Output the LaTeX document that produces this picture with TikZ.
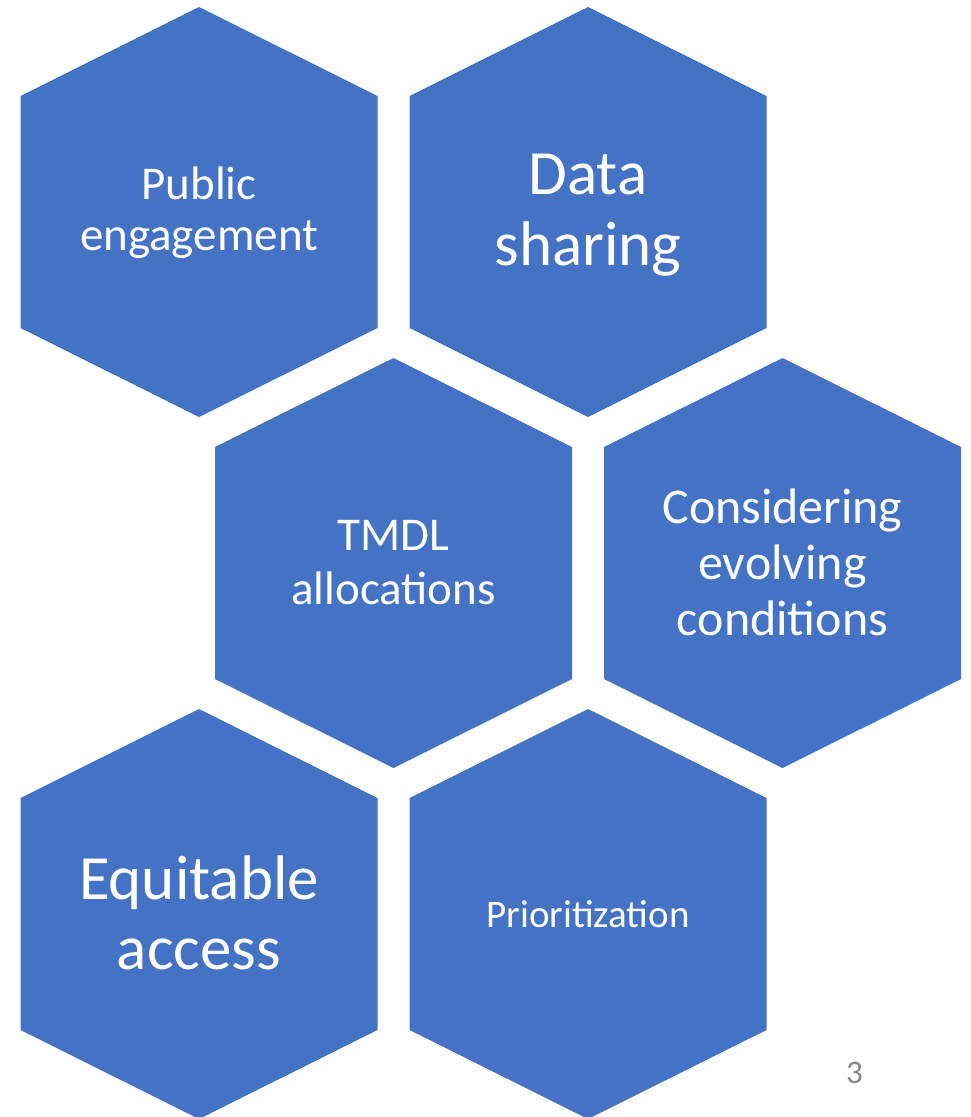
\documentclass[tikz,border=0pt]{standalone}
\usepackage{fontspec}
\setmainfont{Carlito}
\usetikzlibrary{positioning}

\definecolor{hexblue}{HTML}{4472C4}
\definecolor{pagegray}{HTML}{898989}

\tikzset{
    hexcell/.style={fill=hexblue, draw=none},
    hexlabel/.style={text=white, align=center, inner sep=0pt},
}

\begin{document}
\begin{tikzpicture}[x=1pt,y=-1pt]
\useasboundingbox (0,0) rectangle (971,1117);
% six cells: name/x/y/text y/size/skip/text
\foreach \n/\cx/\cy/\ty/\fs/\sk/\t in {
    pub/199/212/213/47/51/{Public\\engagement},
    data/588/212/215/63/71/{Data\\sharing},
    tmdl/393.5/563/563/47/54/{TMDL\\allocations},
    cond/782.5/563/562/50/56/{Considering\\evolving\\conditions},
    equi/199/914/913/63/70/{Equitable\\access},
    prio/588/914/914/39/46/{Prioritization}}
{
    \fill[hexcell] (\cx,\cy) ++(0,-205) -- ++(178.5,89) -- ++(0,232)
        -- ++(-178.5,89) -- ++(-178.5,-89) -- ++(0,-232) -- cycle;
    \node[hexlabel, font=\fontsize{\fs}{\sk}\selectfont] (\n) at (\cx,\ty) {\t};
}
\node[text=pagegray, font=\fontsize{33}{39}\selectfont, anchor=base,
    inner sep=0pt] (pagenum) at (854.5,1083) {3};
\end{tikzpicture}
\end{document}
